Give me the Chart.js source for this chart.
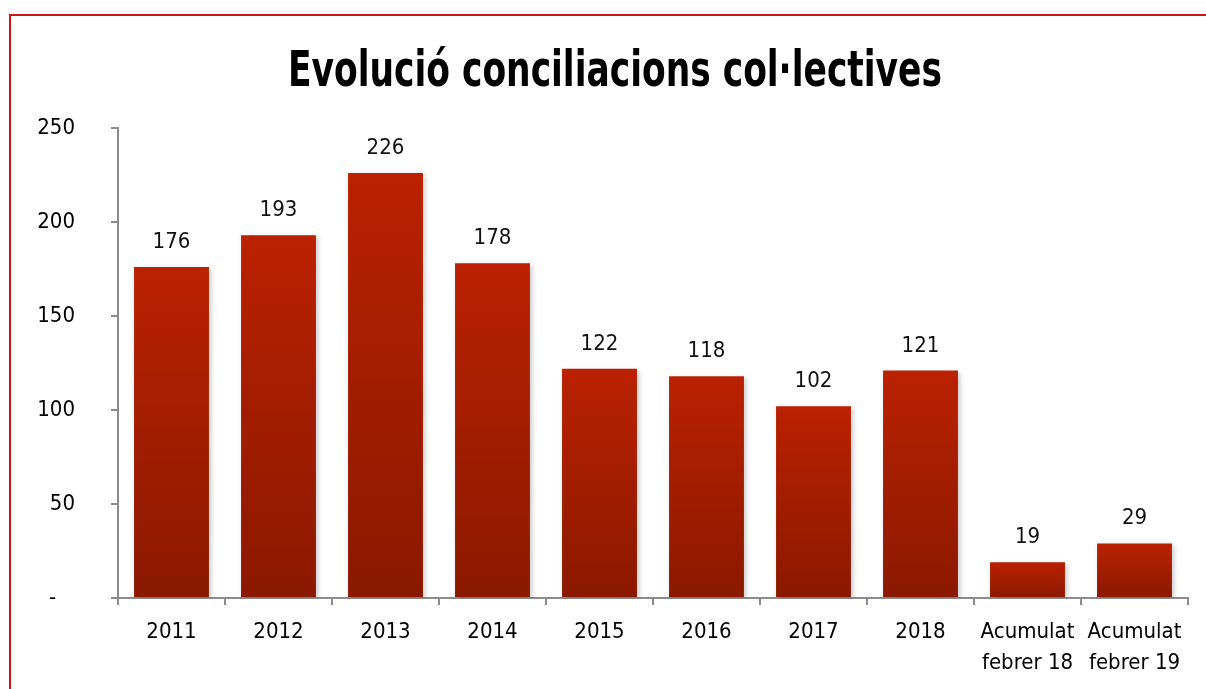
<!DOCTYPE html>
<html>
<head>
<meta charset="utf-8">
<script src="https://cdn.jsdelivr.net/npm/chart.js@4/dist/chart.umd.min.js"></script>
<style>
  html, body { margin: 0; padding: 0; background: #fff; overflow: hidden; }
  #wrap { position: relative; width: 1206px; height: 689px; }
  #frame {
    position: absolute; left: 9px; top: 14px; width: 1220px; height: 720px;
    border-left: 2px solid #d0121b; border-top: 2px solid #d0121b;
  }
  canvas { position: absolute; left: 0; top: 0; }
</style>
</head>
<body>
<div id="wrap">
  <div id="frame"></div>
  <canvas id="chart" width="1206" height="689"></canvas>
</div>
<script>
// data
const categories = ['2011', '2012', '2013', '2014', '2015', '2016', '2017', '2018',
  ['Acumulat', 'febrer 18'], ['Acumulat', 'febrer 19']];
const values = [176, 193, 226, 178, 122, 118, 102, 121, 19, 29];
const yTicks = [0, 50, 100, 150, 200, 250];

const titleText = 'Evolució conciliacions col·lectives';
const tickFont = { family: '"DejaVu Sans Condensed", "DejaVu Sans", sans-serif', size: 22 };
const axisGrey = '#8c8c8c';

// red gradient per bar, bright at the top and darker at the base
function barGradient(context) {
  const chart = context.chart;
  const y = chart.scales.y;
  if (!chart.chartArea || !y) return '#b82000';
  const top = y.getPixelForValue(context.raw);
  const bottom = y.getPixelForValue(0);
  const g = chart.ctx.createLinearGradient(0, top, 0, bottom);
  g.addColorStop(0, '#ba2100');
  g.addColorStop(1, '#8a1900');
  return g;
}

// title in a narrow face: the installed fonts are wider, so squeeze it to the reference width
const titleDraw = {
  id: 'titleDraw',
  afterDraw(chart) {
    const ctx = chart.ctx;
    ctx.save();
    ctx.font = 'bold 50px "DejaVu Sans Condensed", "DejaVu Sans", sans-serif';
    ctx.fillStyle = '#000';
    ctx.textAlign = 'center';
    ctx.textBaseline = 'alphabetic';
    const w = ctx.measureText(titleText).width;
    const sx = Math.min(1, 654 / w);
    ctx.translate(615, 86);
    ctx.scale(sx, 1);
    ctx.fillText(titleText, 0, 0);
    ctx.restore();
  }
};

// soft shadow under the bars + value labels above them
const barExtras = {
  id: 'barExtras',
  beforeDatasetsDraw(chart) {
    const ctx = chart.ctx;
    ctx.save();
    ctx.shadowColor = 'rgba(0,0,0,0.22)';
    ctx.shadowBlur = 5;
    ctx.shadowOffsetX = 2;
    ctx.shadowOffsetY = 2;
  },
  afterDatasetsDraw(chart) {
    const ctx = chart.ctx;
    ctx.restore();
    const meta = chart.getDatasetMeta(0);
    ctx.save();
    ctx.font = tickFont.size + 'px ' + tickFont.family;
    ctx.fillStyle = '#111';
    ctx.textAlign = 'center';
    ctx.textBaseline = 'alphabetic';
    meta.data.forEach((bar, i) => {
      ctx.fillText(String(values[i]), bar.x, bar.y - 19);
    });
    ctx.restore();
  }
};

new Chart(document.getElementById('chart'), {
  type: 'bar',
  data: {
    labels: categories,
    datasets: [{
      data: values,
      backgroundColor: barGradient,
      borderWidth: 0,
      barPercentage: 0.7,
      categoryPercentage: 1
    }]
  },
  options: {
    responsive: false,
    animation: false,
    layout: { padding: { left: 0, right: 18, top: 128, bottom: 0 } },
    plugins: {
      legend: { display: false },
      tooltip: { enabled: false },
      title: { display: false }
    },
    scales: {
      x: {
        grid: {
          display: true,
          offset: true,
          drawOnChartArea: false,
          drawTicks: true,
          tickLength: 7,
          color: axisGrey,
          lineWidth: 2
        },
        border: { display: true, color: axisGrey, width: 2 },
        ticks: {
          color: '#000',
          font: { family: tickFont.family, size: tickFont.size, lineHeight: 1.41 },
          padding: 12,
          maxRotation: 0,
          autoSkip: false
        },
        afterFit(scale) { scale.height = 91; }
      },
      y: {
        min: 0,
        max: 250,
        afterBuildTicks(scale) { scale.ticks = yTicks.map(v => ({ value: v })); },
        grid: {
          display: true,
          drawOnChartArea: false,
          drawTicks: true,
          tickLength: 7,
          color: axisGrey,
          lineWidth: 2
        },
        border: { display: true, color: axisGrey, width: 2 },
        ticks: {
          color: '#000',
          font: { family: tickFont.family, size: tickFont.size },
          padding: 36,
          callback: v => v === 0 ? '-   ' : String(v)
        },
        afterFit(scale) { scale.width = 118; }
      }
    }
  },
  plugins: [barExtras, titleDraw]
});
</script>
</body>
</html>
